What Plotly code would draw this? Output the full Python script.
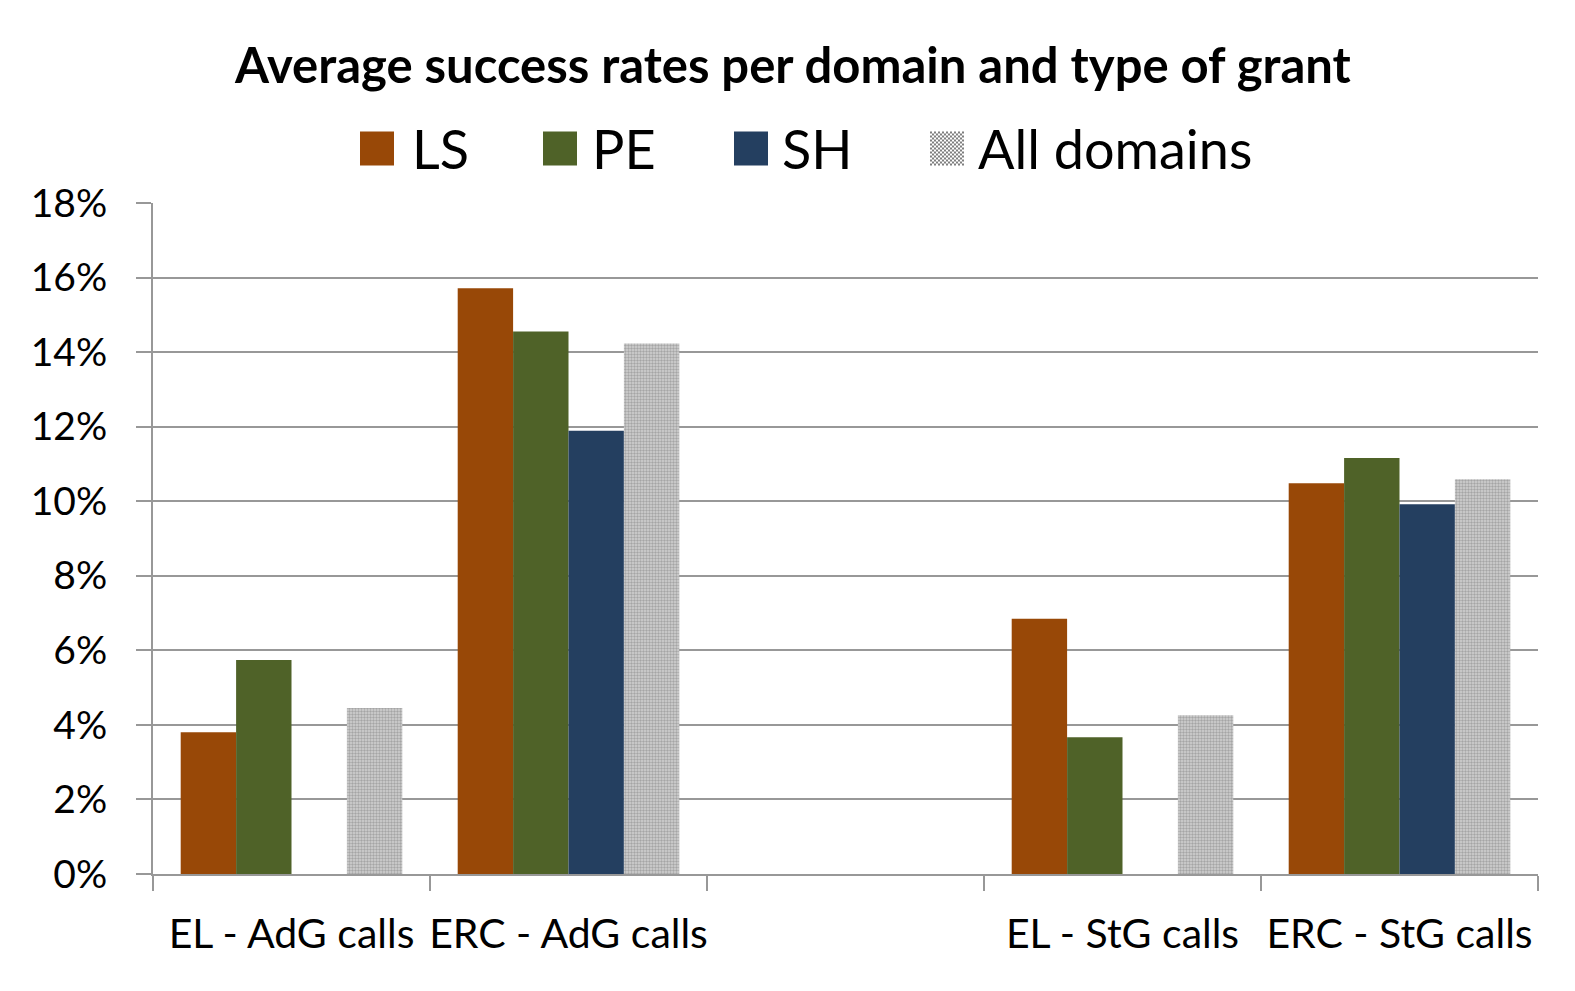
import plotly.graph_objects as go

# ---------------- data ----------------
categories = ["EL - AdG calls", "ERC - AdG calls", " ", "EL - StG calls", "ERC - StG calls"]
series_names = ["LS", "PE", "SH", "All domains"]
ls_values = [3.80, 15.71, None, 6.85, 10.48]
pe_values = [5.74, 14.55, None, 3.67, 11.16]
sh_values = [None, 11.89, None, None, 9.92]
all_values = [4.45, 14.23, None, 4.26, 10.59]
y_tick_values = [0, 2, 4, 6, 8, 10, 12, 14, 16, 18]
y_tick_labels = ["0%", "2%", "4%", "6%", "8%", "10%", "12%", "14%", "16%", "18%"]
title_text = "Average success rates per domain and type of grant"

# ---------------- styling ----------------
OFF = 8  # page body margin of the html page
W, H = 1575 - OFF, 991 - OFF
# plot area in page pixels
L, R, T, B = 153, 1538, 203, 874
FONT = "Lato"
colors = ["#984807", "#4F6228", "#243F60", "#808080"]
grid_col = "#989898"


def px(x):
    return (x - L) / (R - L)


def py(y):
    return (B - y) / (B - T)


fig = go.Figure()
for name, vals, col in zip(series_names[:3], [ls_values, pe_values, sh_values], colors[:3]):
    fig.add_trace(go.Bar(x=categories, y=vals, name=name, marker=dict(color=col, line=dict(width=0)),
                         showlegend=False))
fig.add_trace(go.Bar(x=categories, y=all_values, name=series_names[3], showlegend=False,
                     marker=dict(color="#d2d2d2", line=dict(width=0),
                                 pattern=dict(shape=".", size=3, solidity=0.5,
                                              fgcolor="#777777",
                                              fillmode="overlay"))))

shapes = []
annotations = []

# frame decoration (right border)
shapes.append(dict(type="line", xref="paper", yref="paper", x0=px(1571), x1=px(1571), y0=py(990), y1=py(8),
                   line=dict(color="#a0a0a0", width=2)))

# legend (manual, to get large swatches)
leg_sw = [360, 543, 734, 930]
leg_tx = [410, 590, 780, 976]
leg_y = 148.5
for i, name in enumerate(series_names):
    if i < 3:
        shapes.append(dict(type="rect", xref="paper", yref="paper",
                           x0=px(leg_sw[i]), x1=px(leg_sw[i] + 34), y0=py(leg_y + 17), y1=py(leg_y - 17),
                           fillcolor=colors[i], line=dict(width=0)))
    else:
        cells = []
        n = 17
        for r in range(n):
            for c in range(n):
                if (r + c) % 2 == 0:
                    cells.append(f"M{c*2},{r*2}H{c*2+2}V{r*2+2}H{c*2}Z")
        shapes.append(dict(type="path", xref="paper", yref="paper", xsizemode="pixel", ysizemode="pixel",
                           xanchor=px(leg_sw[i]), yanchor=py(leg_y + 17), path=" ".join(cells),
                           fillcolor="#7f7f7f", line=dict(width=0)))
    annotations.append(dict(text=name, xref="paper", yref="paper", x=px(leg_tx[i]), y=py(leg_y),
                            xanchor="left", yanchor="middle", showarrow=False,
                            font=dict(family=FONT, size=54, color="black")))

annotations.append(dict(text="<b>" + title_text + "</b>", xref="paper", yref="paper",
                        x=px(792), y=py(64), xanchor="center", yanchor="middle", showarrow=False,
                        font=dict(family=FONT, size=49, color="black")))

fig.update_layout(
    width=W, height=H,
    margin=dict(l=L - OFF, r=1575 - R, t=T - OFF, b=991 - B, pad=0),
    paper_bgcolor="white", plot_bgcolor="white",
    barmode="group", bargap=0.2, bargroupgap=0,
    showlegend=False,
    shapes=shapes, annotations=annotations,
    font=dict(family=FONT, color="black"),
)
fig.update_xaxes(type="category", categoryorder="array", categoryarray=categories,
                 tickson="boundaries", ticks="outside", ticklen=15, tickwidth=2, tickcolor=grid_col,
                 showline=True, linecolor=grid_col, linewidth=2, showgrid=False, tickangle=0,
                 tickfont=dict(family=FONT, size=41, color="black"), ticklabelstandoff=23)
fig.update_yaxes(range=[0, 18], tickvals=y_tick_values, ticktext=y_tick_labels,
                 ticks="outside", ticklen=15, tickwidth=2, tickcolor=grid_col,
                 showline=True, linecolor=grid_col, linewidth=2,
                 showgrid=True, gridcolor=grid_col, gridwidth=2, zeroline=False,
                 tickfont=dict(family=FONT, size=39, color="black"), ticklabelstandoff=21)

fig.write_html("out.html")
